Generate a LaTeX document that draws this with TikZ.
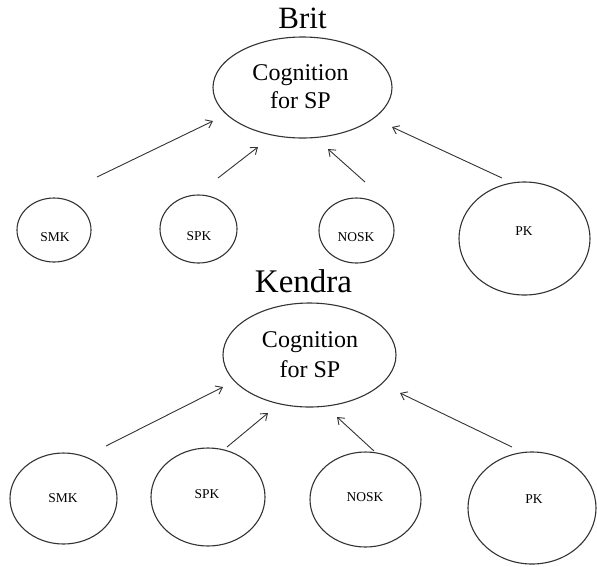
\documentclass[tikz,border=0pt]{standalone}
\usepackage{fontspec}
\setmainfont{Liberation Serif}
\usetikzlibrary{shapes.geometric,arrows.meta}
\definecolor{ink}{HTML}{333333}
\tikzset{
  oval/.style={draw=ink, line width=1.1pt, ellipse, inner sep=0pt},
  title/.style={font=\fontsize{31}{36}\selectfont, anchor=base, inner sep=0pt},
  big/.style={font=\fontsize{24}{28}\selectfont, anchor=base, inner sep=0pt},
  small/.style={font=\fontsize{13.5}{16}\selectfont, inner sep=0pt},
  arr/.style={draw=ink, line width=0.9pt, -{Straight Barb[length=6pt,width=9pt]}}
}
\begin{document}
\begin{tikzpicture}[x=1pt,y=-1pt]
\useasboundingbox (0,0) rectangle (597,566);
% ---------- Brit ----------
\node[title] (brit) at (302.5,28) {Brit};
\node[oval, minimum width=179pt, minimum height=101pt] (cog1) at (302.5,87.5) {};
\node[big] (cog1a) at (300.5,80) {Cognition};
\node[big] (cog1b) at (300.5,108) {for SP};
\node[oval, minimum width=74pt, minimum height=64pt] (smk1) at (54,230) {};
\node[small] (smk1t) at (55,237) {SMK};
\node[oval, minimum width=77pt, minimum height=68pt] (spk1) at (198.5,229) {};
\node[small] (spk1t) at (199,236) {SPK};
\node[oval, minimum width=75pt, minimum height=65pt] (nosk1) at (356.5,230.5) {};
\node[small] (nosk1t) at (356,237) {NOSK};
\node[oval, minimum width=131pt, minimum height=113pt] (pk1) at (524.5,238.5) {};
\node[small] (pk1t) at (524,231) {PK};
\coordinate (a1s) at (97,177);  \coordinate (a1e) at (213,121);
\coordinate (a2s) at (218,178); \coordinate (a2e) at (258,147);
\coordinate (a3s) at (365,182); \coordinate (a3e) at (328,149);
\coordinate (a4s) at (502,178); \coordinate (a4e) at (392,127);
\draw[arr] (a1s) -- (a1e);
\draw[arr] (a2s) -- (a2e);
\draw[arr] (a3s) -- (a3e);
\draw[arr] (a4s) -- (a4e);
% ---------- Kendra ----------
\node[title, font=\fontsize{33}{38}\selectfont] (kendra) at (303.5,292) {Kendra};
\node[oval, minimum width=173pt, minimum height=104pt] (cog2) at (309.5,355) {};
\node[big] (cog2a) at (310,347) {Cognition};
\node[big] (cog2b) at (310,377) {for SP};
\node[oval, minimum width=107pt, minimum height=91pt] (smk2) at (63.5,498.5) {};
\node[small] (smk2t) at (63,498) {SMK};
\node[oval, minimum width=114pt, minimum height=98pt] (spk2) at (208,497) {};
\node[small] (spk2t) at (207,494) {SPK};
\node[oval, minimum width=111pt, minimum height=95pt] (nosk2) at (365.5,499.5) {};
\node[small] (nosk2t) at (365,497) {NOSK};
\node[oval, minimum width=128pt, minimum height=112pt] (pk2) at (532,508) {};
\node[small] (pk2t) at (534,499) {PK};
\coordinate (b1s) at (106,446); \coordinate (b1e) at (223,387);
\coordinate (b2s) at (227,447); \coordinate (b2e) at (268,413);
\coordinate (b3s) at (374,451); \coordinate (b3e) at (337,417);
\coordinate (b4s) at (512,447); \coordinate (b4e) at (400,393);
\draw[arr] (b1s) -- (b1e);
\draw[arr] (b2s) -- (b2e);
\draw[arr] (b3s) -- (b3e);
\draw[arr] (b4s) -- (b4e);
\end{tikzpicture}
\end{document}
